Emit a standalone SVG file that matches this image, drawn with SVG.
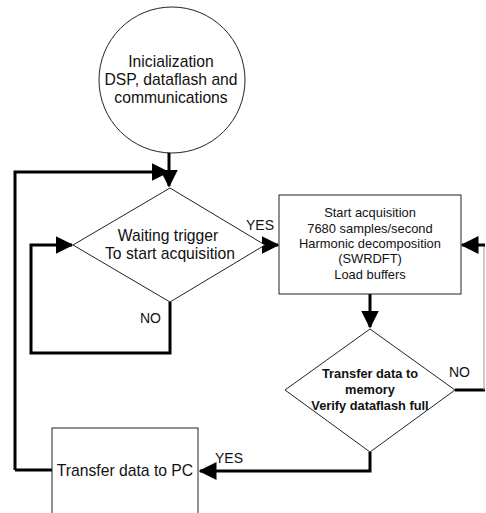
<svg xmlns="http://www.w3.org/2000/svg" width="486" height="513" viewBox="0 0 486 513">
<style>
.shape{fill:#fff;stroke:#222;stroke-width:1}
.t{font-family:"Liberation Sans",Arial,sans-serif;font-size:15.7px;fill:#111;text-anchor:middle}
.s{font-family:"Liberation Sans",Arial,sans-serif;font-size:12.9px;fill:#111;text-anchor:middle}
.b{font-family:"Liberation Sans",Arial,sans-serif;font-size:12.8px;font-weight:bold;fill:#111;text-anchor:middle}
.lbl{font-family:"Liberation Sans",Arial,sans-serif;font-size:14px;fill:#111}
.c{fill:none;stroke:#000;stroke-width:3}
.thin{fill:none;stroke:#999;stroke-width:1}
</style>
<defs>
<marker id="ah" markerWidth="6" markerHeight="6" refX="5.5" refY="3" orient="auto" markerUnits="strokeWidth">
<path d="M0,0 L6,3 L0,6 Z" fill="#000"/>
</marker>
</defs>
<rect width="486" height="513" fill="#fff"/>
<g id="connectors">
<path class="c" d="M169,152 V186" marker-end="url(#ah)"/>
<path class="c" d="M15,470 V172 H168" marker-end="url(#ah)"/>
<path class="c" d="M170,302 V353 H31 V245 H72" marker-end="url(#ah)"/>
<path class="c" d="M265,245 H278" marker-end="url(#ah)"/>
<path class="c" d="M370,294 V327" marker-end="url(#ah)"/>
<path class="c" d="M455,390 H485"/>
<path class="thin" d="M484,245 V390"/>
<path class="c" d="M485,245 H462" marker-end="url(#ah)"/>
<path class="c" d="M370,452 V471 H200" marker-end="url(#ah)"/>
<path class="c" d="M15,470 H52"/>
</g>
<g id="init">
<circle class="shape" cx="172" cy="80" r="73"/>
<text class="t" x="171" y="67">Inicialization</text>
<text class="t" x="171" y="85">DSP, dataflash and</text>
<text class="t" x="171" y="103">communications</text>
</g>
<g id="waiting">
<polygon class="shape" points="170,188 265,245 170,302 73,245"/>
<text class="t" x="168" y="241">Waiting trigger</text>
<text class="t" x="170" y="259">To start acquisition</text>
</g>
<g id="acquisition">
<rect class="shape" x="279" y="195" width="182" height="99"/>
<text class="s" x="370" y="217">Start acquisition</text>
<text class="s" x="370" y="233">7680 samples/second</text>
<text class="s" x="370" y="248">Harmonic decomposition</text>
<text class="s" x="370" y="263">(SWRDFT)</text>
<text class="s" x="370" y="279">Load buffers</text>
</g>
<g id="transfer-memory">
<polygon class="shape" points="370,329 455,390 370,452 285,390"/>
<text class="b" x="370" y="378">Transfer data to</text>
<text class="b" x="370" y="394">memory</text>
<text class="b" x="370" y="410">Verify dataflash full</text>
</g>
<g id="transfer-pc">
<rect class="shape" x="52" y="428" width="146" height="100"/>
<text class="t" x="125" y="476">Transfer data to PC</text>
</g>
<g id="labels">
<text class="lbl" x="246" y="230">YES</text>
<text class="lbl" x="140" y="323">NO</text>
<text class="lbl" x="449" y="377">NO</text>
<text class="lbl" x="215" y="463">YES</text>
</g>
</svg>
